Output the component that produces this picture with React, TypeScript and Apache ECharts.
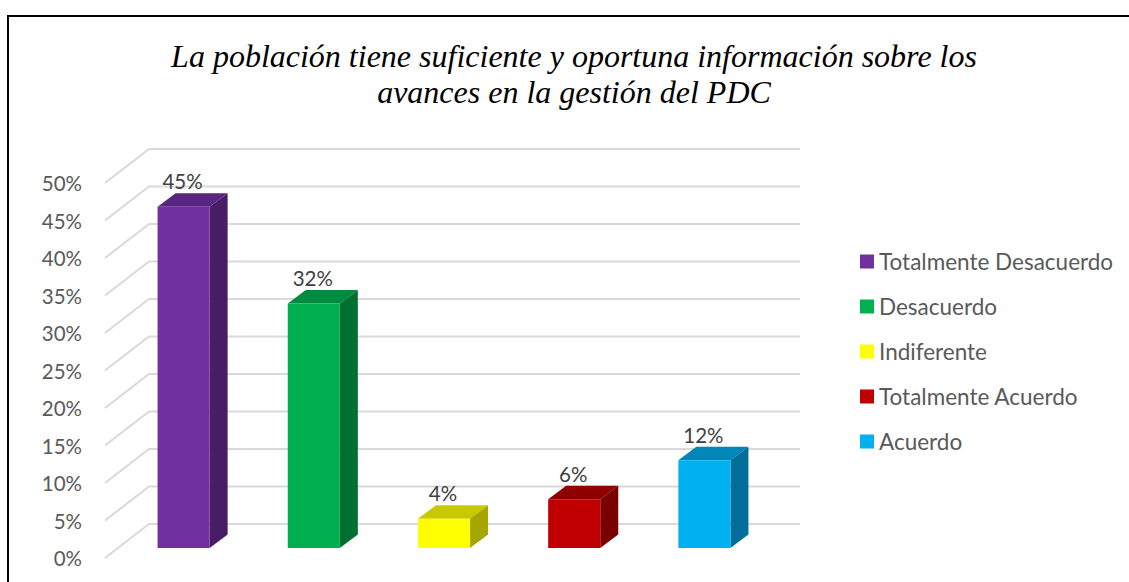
import React, { useEffect, useRef } from "react";
import * as echarts from "echarts";

const titleText = "La población tiene suficiente y oportuna información sobre los\navances en la gestión del PDC";
const categories = ["Totalmente Desacuerdo", "Desacuerdo", "Indiferente", "Totalmente Acuerdo", "Acuerdo"];
const barValues = [45.5, 32.6, 3.9, 6.5, 11.7];
const barLabels = ["45%", "32%", "4%", "6%", "12%"];
const frontColors = ["#7030A0", "#00B050", "#FFFF00", "#C00000", "#00B0F0"];
const topColors = ["#59267F", "#008C40", "#C8C800", "#8F0000", "#0086B8"];
const sideColors = ["#471E66", "#006F32", "#A6A600", "#7A0000", "#006E99"];
const gridTicks = [0, 5, 10, 15, 20, 25, 30, 35, 40, 45, 50];

const FONT = "Lato";
const WALL_DX = 44;
const WALL_DY = 34;
const BAR_DX = 13.5;
const BAR_DY = 10;
const DEPTH_DX = 18;
const DEPTH_DY = 13.5;

export default function App() {
  const ref = useRef<HTMLDivElement>(null);
  useEffect(() => {
    document.body.style.margin = "0";
    const chart = echarts.init(ref.current!, null, { renderer: "svg" });

    const wallSeries = {
      type: "custom",
      silent: true,
      z: 1,
      data: gridTicks.map((t) => [0, t]),
      encode: { x: 0, y: 1 },
      renderItem: (params: any, api: any) => {
        const y = api.coord([0, api.value(1)])[1];
        const x0 = params.coordSys.x;
        const x1 = x0 + params.coordSys.width;
        return {
          type: "polyline",
          shape: {
            points: [
              [x0, y],
              [x0 + WALL_DX, y - WALL_DY],
              [x1 + WALL_DX, y - WALL_DY],
            ],
          },
          style: { fill: "none", stroke: "#D9D9D9", lineWidth: 2 },
        };
      },
    };

    const barSeries = categories.map((name, i) => ({
      type: "custom",
      name,
      z: 2,
      itemStyle: { color: frontColors[i] },
      data: [[i, barValues[i]]],
      encode: { x: 0, y: 1 },
      renderItem: (_p: any, api: any) => {
        const top = api.coord([api.value(0), api.value(1)]);
        const base = api.coord([api.value(0), 0]);
        const half = api.size([1, 0])[0] * 0.2;
        const l = top[0] + BAR_DX - half;
        const r = top[0] + BAR_DX + half;
        const t = top[1] - BAR_DY;
        const b = base[1] - BAR_DY;
        return {
          type: "group",
          children: [
            {
              type: "polygon",
              shape: { points: [[l, t], [r, t], [r + DEPTH_DX, t - DEPTH_DY], [l + DEPTH_DX, t - DEPTH_DY]] },
              style: { fill: topColors[i] },
            },
            {
              type: "polygon",
              shape: { points: [[r, t], [r + DEPTH_DX, t - DEPTH_DY], [r + DEPTH_DX, b - DEPTH_DY], [r, b]] },
              style: { fill: sideColors[i] },
            },
            {
              type: "rect",
              shape: { x: l, y: t, width: r - l, height: b - t },
              style: { fill: frontColors[i] },
            },
            {
              type: "text",
              style: {
                x: (l + r) / 2 - 1,
                y: t - 25.5,
                text: barLabels[i],
                fill: "#404040",
                font: `20.5px ${FONT}`,
                textAlign: "center",
                textVerticalAlign: "middle",
              },
            },
          ],
        };
      },
    }));

    chart.setOption({
      animation: false,
      backgroundColor: "#FFFFFF",
      title: {
        text: titleText,
        left: 574,
        top: 38,
        padding: 0,
        textAlign: "center",
        textStyle: {
          fontFamily: "Liberation Serif",
          fontStyle: "italic",
          fontWeight: "normal",
          fontSize: 32,
          lineHeight: 36,
          color: "#000000",
        },
      },
      legend: {
        data: categories,
        orient: "vertical",
        left: 860,
        top: 250,
        padding: 0,
        icon: "rect",
        itemWidth: 14,
        itemHeight: 14,
        itemGap: 22,
        selectedMode: false,
        textStyle: { fontFamily: FONT, fontSize: 22.5, color: "#595959" },
      },
      grid: { left: 105, top: 183, width: 651, height: 375 },
      xAxis: {
        type: "category",
        data: categories,
        axisLine: { show: false },
        axisTick: { show: false },
        axisLabel: { show: false },
      },
      yAxis: {
        type: "value",
        min: 0,
        max: 50,
        interval: 5,
        axisLine: { show: false },
        axisTick: { show: false },
        splitLine: { show: false },
        axisLabel: { formatter: "{value}%", margin: 23, fontFamily: FONT, fontSize: 20.5, color: "#595959" },
      },
      graphic: [
        {
          type: "polyline",
          shape: { points: [[8, 582], [8, 16], [1129, 16]] },
          style: { fill: "none", stroke: "#000000", lineWidth: 2 },
          silent: true,
        },
      ],
      series: [wallSeries, ...barSeries],
    });
    return () => chart.dispose();
  }, []);
  return <div ref={ref} style={{ position: "absolute", left: 0, top: 0, width: 1129, height: 582 }} />;
}
